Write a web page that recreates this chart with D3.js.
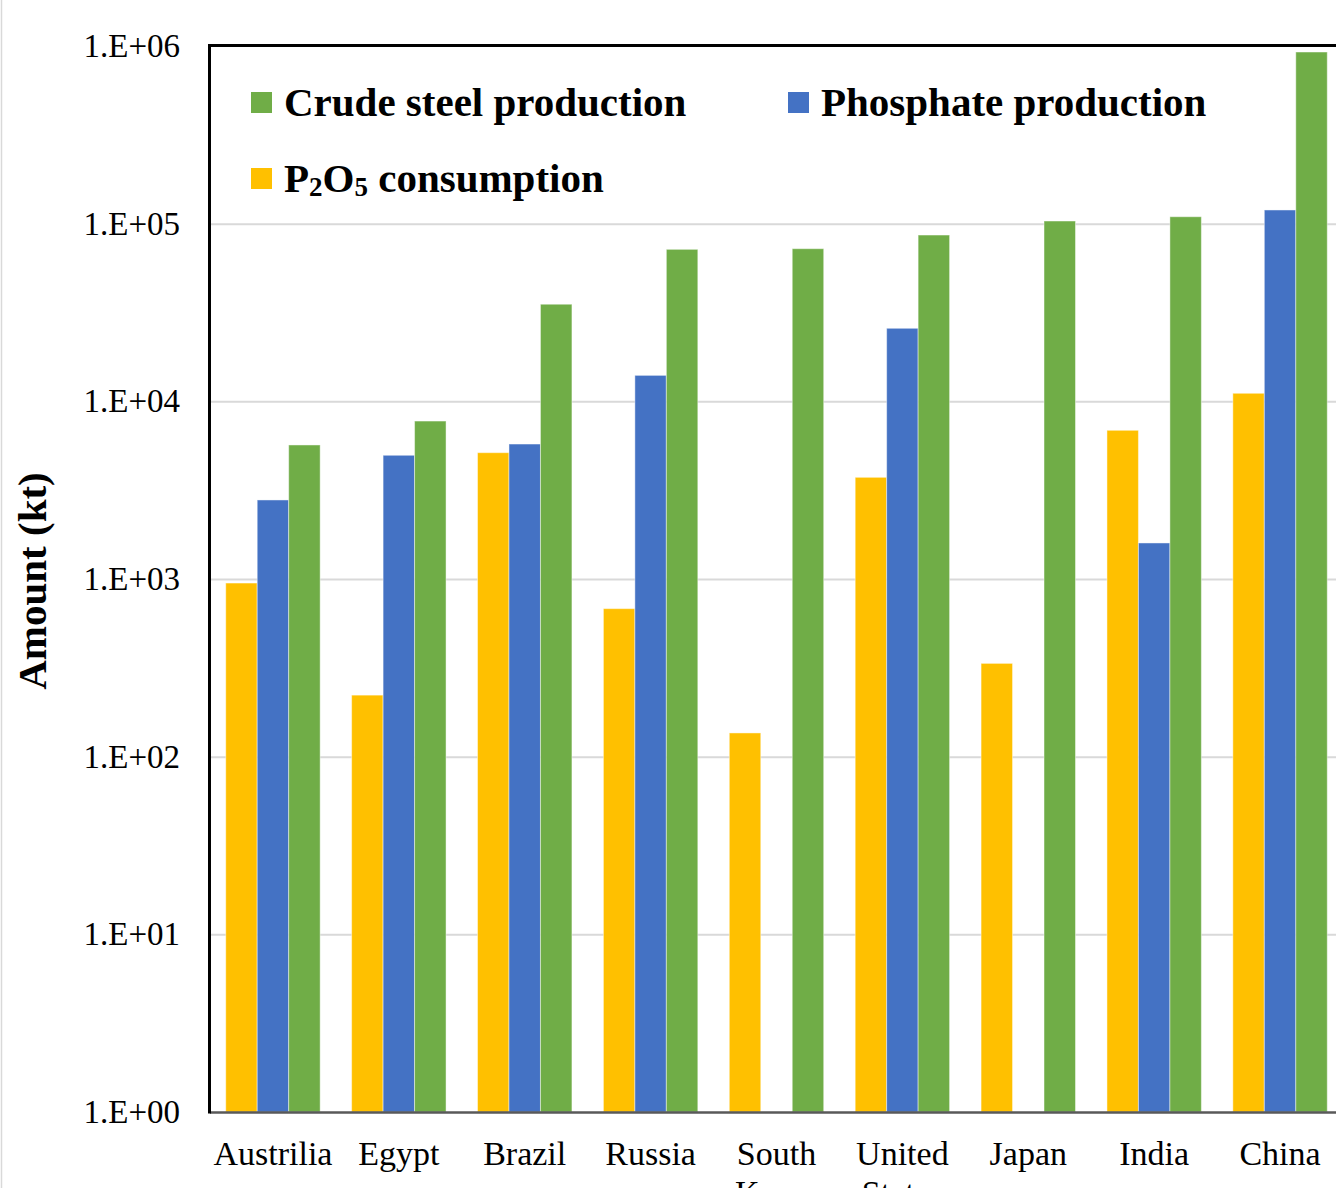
<!DOCTYPE html>
<html lang="en">
<head>
    <meta charset="UTF-8">
    <title>Steel and phosphate by country</title>
    <script src="https://d3js.org/d3.v7.min.js"></script>
    <style>
        body { margin: 0; background: #fff; }
        text { font-family: "Liberation Serif", "Times New Roman", serif; fill: #000; }
        .grid line { stroke: #d9d9d9; stroke-width: 2px; }
        .grid path { display: none; }
    </style>
</head>
<body>
<script>
    const categories = ['Austrilia', 'Egypt', 'Brazil', 'Russia', 'South Korea', 'United States', 'Japan', 'India', 'China'];
    const p2o5 = [949, 222, 5140, 681, 136, 3735, 335, 6870, 11100];
    const phosphate = [2785, 4970, 5750, 14000, null, 25770, null, 1595, 119400];
    const steel = [5680, 7745, 35200, 71700, 72300, 86300, 103500, 109400, 925000];
    const yTicks = [1, 10, 100, 1000, 10000, 100000, 1000000];

    const series = [
        { key: 'p2o5', values: p2o5, color: '#FFC000' },
        { key: 'phosphate', values: phosphate, color: '#4472C4' },
        { key: 'steel', values: steel, color: '#70AD47' }
    ];

    const width = 1336;
    const height = 1188;
    const plotLeft = 210, plotTop = 46, plotBottom = 1112, plotRight = 1343;

    const svg = d3.select('body').append('svg')
        .attr('width', width)
        .attr('height', height);

    // faint page border on the left
    svg.append('line')
        .attr('x1', 1.5).attr('x2', 1.5)
        .attr('y1', 0).attr('y2', height)
        .attr('stroke', '#d9d9d9').attr('stroke-width', 1.5);

    const x = d3.scaleBand()
        .domain(categories)
        .range([plotLeft, plotRight])
        .paddingInner(0.25)
        .paddingOuter(0.125);

    const xSub = d3.scaleBand()
        .domain(series.map(s => s.key))
        .range([0, x.bandwidth()]);

    const y = d3.scaleLog()
        .domain([1, 1e6])
        .range([plotBottom, plotTop]);

    // gridlines
    svg.append('g')
        .attr('class', 'grid')
        .attr('transform', `translate(${plotLeft},0)`)
        .call(d3.axisLeft(y).tickValues(yTicks.slice(1, -1)).tickSize(-(width - plotLeft)).tickFormat(''));

    // bars
    const groups = svg.append('g')
        .selectAll('g')
        .data(series)
        .enter().append('g')
        .attr('fill', d => d.color);

    groups.selectAll('rect')
        .data(s => s.values.map((v, i) => ({ key: s.key, cat: categories[i], value: v })).filter(d => d.value != null))
        .enter().append('rect')
        .attr('x', d => x(d.cat) + xSub(d.key))
        .attr('width', xSub.bandwidth())
        .attr('y', d => y(d.value))
        .attr('height', d => plotBottom - y(d.value))
        .attr('stroke', 'rgba(255,255,255,0.45)')
        .attr('stroke-width', 1);

    // y axis labels
    const yAxis = svg.append('g')
        .attr('transform', `translate(${plotLeft},0)`)
        .call(d3.axisLeft(y).tickValues(yTicks).tickSize(0).tickPadding(30)
            .tickFormat(d => '1.E+' + String(Math.round(Math.log10(d))).padStart(2, '0')));
    yAxis.select('.domain').remove();
    yAxis.selectAll('text')
        .style('font-family', '"Liberation Serif", "Times New Roman", serif')
        .style('font-size', '33px')
        .attr('fill', '#000');

    // x axis labels
    const xAxis = svg.append('g')
        .attr('transform', `translate(0,${plotBottom})`)
        .call(d3.axisBottom(x).tickSize(0));
    xAxis.select('.domain').remove();
    xAxis.selectAll('text')
        .style('font-family', '"Liberation Serif", "Times New Roman", serif')
        .style('font-size', '34px')
        .attr('fill', '#000')
        .attr('y', 53)
        .attr('dy', 0)
        .each(function (d) {
            const t = d3.select(this);
            const words = d.split(' ');
            t.text(null);
            words.forEach((w, i) => {
                t.append('tspan').attr('x', 0).attr('dy', i === 0 ? 0 : 39).text(w);
            });
        });

    // frame: top border, left border, bottom axis line
    svg.append('line')
        .attr('x1', plotLeft).attr('x2', width)
        .attr('y1', plotTop - 0.5).attr('y2', plotTop - 0.5)
        .attr('stroke', '#000').attr('stroke-width', 3);
    svg.append('line')
        .attr('x1', plotLeft).attr('x2', width)
        .attr('y1', plotBottom + 0.5).attr('y2', plotBottom + 0.5)
        .attr('stroke', '#595959').attr('stroke-width', 2.5);
    svg.append('line')
        .attr('x1', plotLeft - 0.5).attr('x2', plotLeft - 0.5)
        .attr('y1', plotTop - 2).attr('y2', plotBottom + 1.5)
        .attr('stroke', '#000').attr('stroke-width', 3);

    // y axis title
    svg.append('text')
        .attr('transform', 'translate(46,581) rotate(-90)')
        .attr('text-anchor', 'middle')
        .style('font-size', '41px')
        .style('font-weight', 'bold')
        .text('Amount (kt)');

    // legend
    const legendItems = [
        { color: '#70AD47', x: 251, y: 92, parts: [['Crude steel production', false]] },
        { color: '#4472C4', x: 788, y: 92, parts: [['Phosphate production', false]] },
        { color: '#FFC000', x: 251, y: 168, parts: [['P', false], ['2', true], ['O', false], ['5', true], [' consumption', false]] }
    ];
    const legend = svg.append('g');
    legendItems.forEach(item => {
        legend.append('rect')
            .attr('x', item.x).attr('y', item.y)
            .attr('width', 21).attr('height', 21)
            .attr('fill', item.color);
        const t = legend.append('text')
            .attr('x', item.x + 33)
            .attr('y', item.y + 24)
            .style('font-size', '41px')
            .style('font-weight', 'bold')
            .attr('xml:space', 'preserve');
        item.parts.forEach(([s, sub]) => {
            const ts = t.append('tspan').text(s);
            if (sub) ts.style('font-size', '27px').attr('dy', 4);
            else if (t.selectAll('tspan').size() > 1) ts.attr('dy', -4);
        });
    });
</script>
</body>
</html>
